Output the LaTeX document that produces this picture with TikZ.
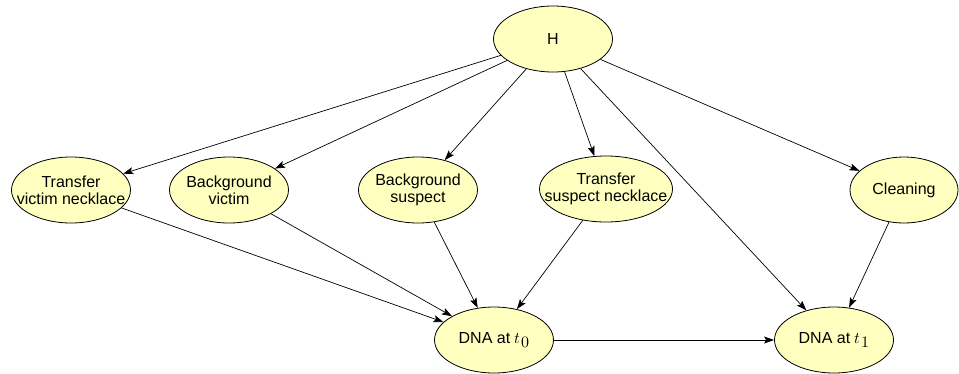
\documentclass[tikz,border=0pt]{standalone}
\usepackage{fontspec}
\usepackage{unicode-math}
\setmainfont{Liberation Sans}
\setmathfont{Latin Modern Math}
\usetikzlibrary{arrows.meta,shapes.geometric}
\definecolor{nodefill}{RGB}{255,255,192}
\newcommand{\tsub}[1]{$t\mkern1mu$\raisebox{-4.5pt}{$#1$}}
\begin{document}
\begin{tikzpicture}[x=1pt,y=-1pt,
  ell/.style={ellipse,draw=black,line width=0.8pt,fill=nodefill,minimum width=119pt,minimum height=66pt,inner sep=0pt},
  txt/.style={align=center,font=\fontsize{16}{17}\selectfont,inner sep=0pt},
  arr/.style={-{Stealth[length=10pt,width=7pt,inset=2pt]},line width=0.7pt}]
\useasboundingbox (0,0) rectangle (959,373);
\node[ell] (h) at (553,39) {};
\node[ell] (tvn) at (71,190) {};
\node[ell] (bv) at (229,190) {};
\node[ell] (bs) at (418,190) {};
\node[ell,minimum width=133pt] (tsn) at (606,189) {};
\node[ell,minimum width=108pt] (cl) at (904,190) {};
\node[ell] (d0) at (494,340) {};
\node[ell] (d1) at (834,340) {};
\node[txt] (ht) at (h) {H};
\node[txt] (tvnt) at (tvn) {Transfer\\victim necklace};
\node[txt] (bvt) at (bv) {Background\\victim};
\node[txt] (bst) at (bs) {Background\\suspect};
\node[txt] (tsnt) at (tsn) {Transfer\\suspect necklace};
\node[txt] (clt) at (cl) {Cleaning};
\node[txt] (d0t) at (d0) {DNA at \tsub{0}};
\node[txt] (d1t) at (d1) {DNA at \tsub{1}};
\draw[arr] (h) -- (tvn);
\draw[arr] (h) -- (bv);
\draw[arr] (h) -- (bs);
\draw[arr] (h) -- (tsn);
\draw[arr] (h) -- (d1);
\draw[arr] (h) -- (cl);
\draw[arr] (tvn) -- (d0);
\draw[arr] (bv) -- (d0);
\draw[arr] (bs) -- (d0);
\draw[arr] (tsn) -- (d0);
\draw[arr] (d0) -- (d1);
\draw[arr] (cl) -- (d1);
\end{tikzpicture}
\end{document}
